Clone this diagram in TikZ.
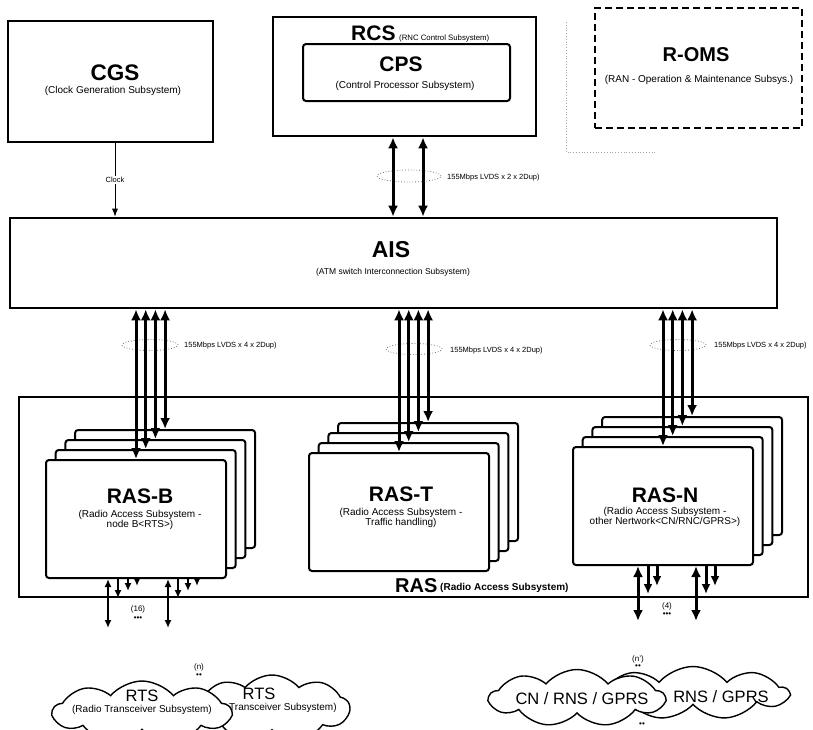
\documentclass[tikz,border=0pt]{standalone}
\usepackage{fontspec}
\setmainfont{Liberation Sans}
\usetikzlibrary{shapes.geometric,shapes.symbols,arrows.meta,positioning}

\begin{document}
\begin{tikzpicture}[
    x=1pt, y=-1pt,
    box/.style={draw, line width=2.6pt, fill=white, inner sep=0pt},
    card/.style={draw, line width=2pt, rounded corners=3pt, fill=white, minimum width=180pt, minimum height=118pt, inner sep=0pt},
    bigname/.style={font=\fontsize{21}{23}\selectfont\bfseries, inner sep=0pt},
    subname/.style={font=\fontsize{10}{10.5}\selectfont, align=center, inner sep=0pt},
    linklbl/.style={font=\fontsize{7.5}{8}\selectfont, inner sep=1pt},
    smalllbl/.style={font=\fontsize{8}{8}\selectfont, inner sep=0pt},
    bundle/.style={draw=black!55, dotted, line width=0.8pt, ellipse, inner sep=0pt},
    cloudy/.style={draw, cloud, cloud puffs=9, cloud puff arc=100, cloud ignores aspect, line width=1.4pt, fill=white, inner sep=0pt},
    cloudtxt/.style={font=\fontsize{16.5}{18}\selectfont, inner sep=0pt},
    bus/.style={{Latex[length=11pt,width=10pt]}-{Latex[length=11pt,width=10pt]}, line width=3pt},
    busdown/.style={-{Latex[length=10pt,width=9pt]}, line width=3pt},
    tap/.style={{Latex[length=8pt,width=7pt]}-{Latex[length=8pt,width=7pt]}, line width=1.8pt},
    tapdown/.style={-{Latex[length=8pt,width=7pt]}, line width=1.8pt},
    clockline/.style={-{Latex[length=8pt,width=6pt]}, line width=0.9pt},
]
\useasboundingbox (0,0) rectangle (813,729);
\clip (0,0) rectangle (813,729);

% Clock generation subsystem
\node[box, minimum width=205pt, minimum height=121pt] (cgs) at (110.5,81.5) {};
\node[bigname, font=\fontsize{22.5}{24}\selectfont\bfseries] (cgsname) at (115,73) {CGS};
\node[subname] (cgssub) at (113,91) {(Clock Generation Subsystem)};

% RNC control subsystem with CPS inside
\node[box, minimum width=263pt, minimum height=119pt] (rcs) at (404.5,76.5) {};
\node[bigname, anchor=base west] (rcsname) at (351,40) {RCS};
\node[subname, font=\fontsize{7.8}{8}\selectfont, anchor=base west] (rcssub) at (399,40) {(RNC Control Subsystem)};
\node[box, line width=2pt, rounded corners=3pt, minimum width=207pt, minimum height=57pt] (cps) at (406.5,72.5) {};
\node[bigname] (cpsname) at (401,64) {CPS};
\node[subname] (cpssub) at (405,86) {(Control Processor Subsystem)};

% R-OMS (dashed)
\draw[black!35, dotted, line width=0.8pt] (566,22) -- (566,152) -- (655,152);
\node[box, dash pattern=on 7pt off 4pt, minimum width=207pt, minimum height=120pt] (roms) at (698.5,68) {};
\node[bigname, font=\fontsize{20}{21}\selectfont\bfseries] (romsname) at (696,55) {R-OMS};
\node[subname] (romssub) at (699,80) {(RAN - Operation \& Maintenance Subsys.)};

% ATM switch
\node[box, minimum width=767pt, minimum height=90pt] (ais) at (393.5,263) {};
\node[bigname, font=\fontsize{23}{25}\selectfont\bfseries] (aisname) at (391,250) {AIS};
\node[subname, font=\fontsize{8.5}{9}\selectfont] (aissub) at (393,272) {(ATM switch Interconnection Subsystem)};

% clock line
\coordinate (clk) at ([xshift=4.5pt]cgs.south);
\draw[clockline] (clk) -- (clk |- ais.north) node[midway, linklbl, fill=white] (clocklbl) {Clock};

% RCS <-> AIS
\node[bundle, minimum width=64pt, minimum height=12pt] (bunrcs) at (409,176) {};
\node[linklbl, anchor=west] (lblrcs) at (446,178) {155Mbps LVDS x 2 x 2Dup)};
\coordinate (rcsl) at ([xshift=-11.5pt]rcs.south);
\coordinate (rcsr) at ([xshift=18.5pt]rcs.south);
\draw[bus] (rcsl) -- (rcsl |- ais.north);
\draw[bus] (rcsr) -- (rcsr |- ais.north);

% RAS frame
\node[box, minimum width=789pt, minimum height=200pt] (ras) at (413.5,497) {};
\node[bigname, font=\fontsize{20}{21}\selectfont\bfseries, anchor=base west] (rasname) at (395,592) {RAS};
\node[subname, font=\fontsize{10}{11}\selectfont\bfseries, anchor=base west] (rassub) at (440,590) {(Radio Access Subsystem)};

% card stacks
\foreach \nm/\cx/\cy in {rasB/136/519, rasT/399/512, rasN/663/506}{
  \foreach \k in {3,2,1,0}{
    \node[card] (\nm\k) at ({\cx+9.7*\k},{\cy-10*\k}) {};
  }
}
\node[bigname] (rasBname) at (140,496) {RAS-B};
\node[subname] (rasBsub) at (140,520) {(Radio Access Subsystem -\\node B<RTS>)};
\node[bigname] (rasTname) at (401,494) {RAS-T};
\node[subname] (rasTsub) at (401,518) {(Radio Access Subsystem -\\Traffic handling)};
\node[bigname] (rasNname) at (665,495) {RAS-N};
\node[subname] (rasNsub) at (665,517) {(Radio Access Subsystem -\\other Nertwork<CN/RNC/GPRS>)};

% AIS <-> RAS links
\node[bundle, minimum width=56pt, minimum height=11pt] (bunB) at (150,345) {};
\node[linklbl, anchor=west] (lblB) at (183,346) {155Mbps LVDS x 4 x 2Dup)};
\node[bundle, minimum width=56pt, minimum height=11pt] (bunT) at (414,349) {};
\node[linklbl, anchor=west] (lblT) at (449,351) {155Mbps LVDS x 4 x 2Dup)};
\node[bundle, minimum width=56pt, minimum height=11pt] (bunN) at (678,345) {};
\node[linklbl, anchor=west] (lblN) at (713,346) {155Mbps LVDS x 4 x 2Dup)};
\foreach \nm in {rasB,rasT,rasN}{
  \foreach \k in {0,...,3}{
    \draw[bus] (\nm\k.north |- ais.south) -- (\nm\k.north);
  }
}

% RAS-B outputs
\coordinate (rtsA) at (108,628);
\coordinate (rtsB) at (168,628);
\draw[tap] (rtsA |- rasB0.south) -- (rtsA);
\draw[tap] (rtsB |- rasB0.south) -- (rtsB);
\foreach \x/\y in {118/598, 128/591, 137/586, 178/598, 188/591, 197/586}{
  \coordinate (bo\x) at (\x,\y);
  \draw[tapdown] (bo\x |- rasB0.south) -- (bo\x);
}
\node[smalllbl] (cnt16) at (138,609) {(16)};
\node[smalllbl] (dots16) at (138,619) {•••};

% RAS-N outputs
\coordinate (cnA) at (638,621);
\coordinate (cnB) at (696,621);
\draw[bus] (cnA |- rasN0.south) -- (cnA);
\draw[bus] (cnB |- rasN0.south) -- (cnB);
\foreach \x/\y in {648/594, 657/586, 706/594, 715/586}{
  \coordinate (no\x) at (\x,\y);
  \draw[busdown] (no\x |- rasN0.south) -- (no\x);
}
\node[smalllbl] (cnt4) at (667,606) {(4)};
\node[smalllbl] (dots4) at (667,615) {•••};

% RTS clouds
\node[cloudy, minimum width=155pt, minimum height=66pt] (rts2) at (272,708) {};
\node[cloudy, minimum width=178pt, minimum height=62pt] (rts1) at (142,712) {};
\node[cloudtxt] (rts1name) at (142,696) {RTS};
\node[subname] (rts1sub) at (142,710) {(Radio Transceiver Subsystem)};
\node[cloudtxt] (rts2name) at (259,694) {RTS};
\node[subname, anchor=west] (rts2sub) at (229,708) {Transceiver Subsystem)};
\node[smalllbl] (rtsn) at (199,667) {(n)};
\node[smalllbl] (rtsdots) at (199,676) {••};

% CN / RNS / GPRS clouds
\node[cloudy, minimum width=190pt, minimum height=53pt] (cn2) at (693,693) {};
\node[cloudy, minimum width=175pt, minimum height=57pt] (cn1) at (577,698) {};
\node[cloudtxt] (cn1txt) at (582,699) {CN / RNS / GPRS};
\node[cloudtxt] (cn2txt) at (721,697) {RNS / GPRS};
\node[smalllbl] (cnn) at (638,659) {(n')};
\node[smalllbl] (cndots) at (638,667) {••};
\node[smalllbl] (cndots2) at (642,725) {••};

\end{tikzpicture}
\end{document}
